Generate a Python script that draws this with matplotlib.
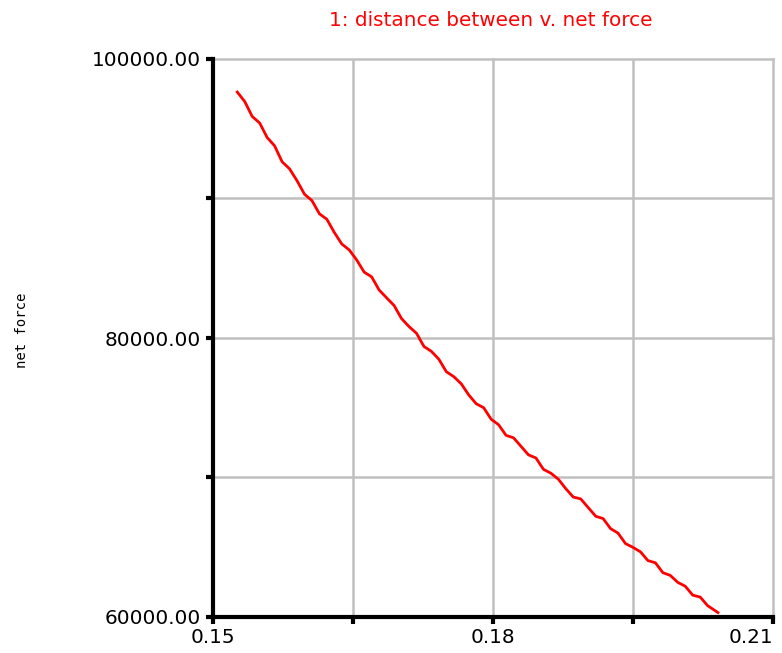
import matplotlib
matplotlib.use("Agg")
import matplotlib.pyplot as plt
from matplotlib.ticker import FixedLocator, FormatStrFormatter

# distance between (x) and net force (y)
distance = [0.1526, 0.1534, 0.1542, 0.1550, 0.1558, 0.1566, 0.1574, 0.1582, 0.1590, 0.1598,
            0.1606, 0.1614, 0.1622, 0.1630, 0.1638, 0.1646, 0.1654, 0.1662, 0.1670, 0.1678,
            0.1686, 0.1694, 0.1702, 0.1710, 0.1718, 0.1726, 0.1734, 0.1742, 0.1750, 0.1758,
            0.1766, 0.1774, 0.1782, 0.1790, 0.1798, 0.1806, 0.1814, 0.1822, 0.1830, 0.1838,
            0.1846, 0.1854, 0.1862, 0.1870, 0.1878, 0.1886, 0.1894, 0.1902, 0.1910, 0.1918,
            0.1926, 0.1934, 0.1942, 0.1950, 0.1958, 0.1966, 0.1974, 0.1982, 0.1990, 0.1998,
            0.2006, 0.2014, 0.2022, 0.2030, 0.2041]
net_force = [97630, 96951, 95882, 95413, 94374, 93775, 92636, 92127, 91278, 90310,
             89852, 88906, 88510, 87564, 86738, 86312, 85591, 84721, 84381, 83441,
             82881, 82331, 81391, 80821, 80341, 79395, 79041, 78477, 77583, 77229,
             76715, 75921, 75287, 75003, 74179, 73781, 73019, 72847, 72235, 71623,
             71401, 70589, 70307, 69880, 69199, 68598, 68467, 67846, 67225, 67054,
             66333, 66012, 65261, 64990, 64672, 64044, 63886, 63178, 62980, 62482,
             62204, 61566, 61428, 60810, 60320]

x_major = [0.15, 0.18, 0.21]
x_minor = [0.165, 0.195]
y_major = [60000, 80000, 100000]
y_minor = [70000, 90000]

W, H = 782, 653
fig = plt.figure(figsize=(W / 100, H / 100), dpi=100)
ax = fig.add_axes([213 / W, 1 - 617 / H, (773 - 213) / W, (617 - 59) / H])

ax.plot(distance, net_force, color="red", linewidth=2.0, zorder=3)

ax.set_xlim(0.15, 0.21)
ax.set_ylim(60000, 100000)

ax.xaxis.set_major_locator(FixedLocator(x_major))
ax.xaxis.set_minor_locator(FixedLocator(x_minor))
ax.yaxis.set_major_locator(FixedLocator(y_major))
ax.yaxis.set_minor_locator(FixedLocator(y_minor))
ax.xaxis.set_major_formatter(FormatStrFormatter("%.2f"))
ax.yaxis.set_major_formatter(FormatStrFormatter("%.2f"))

ax.grid(True, which="both", color="#c0c0c0", linewidth=1.8, zorder=1)
for gl in ax.get_xgridlines() + ax.get_ygridlines():
    gl.set_clip_on(False)
ax.set_axisbelow(True)

for side in ["top", "right"]:
    ax.spines[side].set_visible(False)
for side in ["left", "bottom"]:
    ax.spines[side].set_linewidth(3)
    ax.spines[side].set_color("black")
    ax.spines[side].set_zorder(4)

ax.tick_params(which="both", direction="out", length=5, width=3, color="black",
               labelsize=14.4, pad=4)
ax.tick_params(axis="x", which="both", pad=3)

# last x label would run off the right edge, keep it inside like the reference
fig.canvas.draw()
xlabels = ax.get_xticklabels()
xlabels[-1].set_horizontalalignment("right")
xlabels[-1].set_x(0.21)

fig.text(22 / W, 1 - 330 / H, "net force", rotation=90, ha="center", va="center",
         family="DejaVu Sans Mono", fontsize=10)
fig.text(491 / W, 1 - 20 / H, "1: distance between v. net force", ha="center", va="center",
         color="red", fontsize=14.4)

fig.savefig("out.png", dpi=100)
